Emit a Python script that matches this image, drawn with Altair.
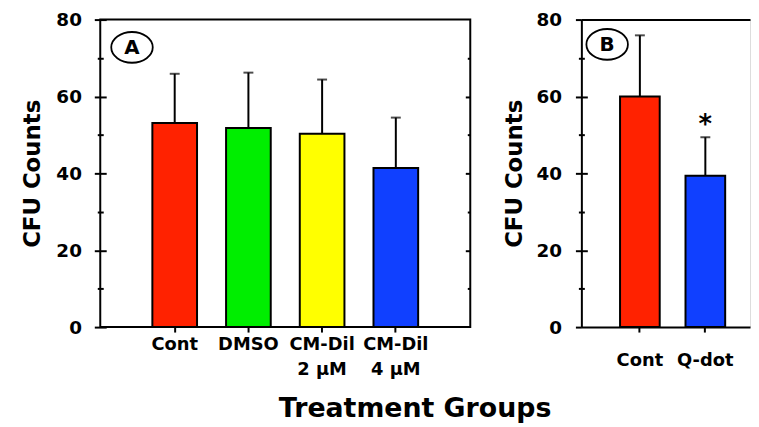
import altair as alt
import pandas as pd

# ---- data ----
groups_a = ["Cont", "DMSO", "CM-Dil 2 μM", "CM-Dil 4 μM"]
means_a = [53.1, 51.8, 50.3, 41.4]
errs_a = [12.8, 14.4, 14.1, 13.1]

groups_b = ["Cont", "Q-dot"]
means_b = [60.0, 39.4]
errs_b = [15.9, 10.0]

colors_a = ["#FF2200", "#00EE00", "#FFFF00", "#1040FF"]
colors_b = ["#FF2200", "#1040FF"]

y_major = [0, 20, 40, 60, 80]
y_inner = [20, 40, 60]
y_minor = [10, 30, 50, 70]

FONT = "DejaVu Sans"
ELLIPSE = "M -1.35 0 A 1.35 1 0 1 0 1.35 0 A 1.35 1 0 1 0 -1.35 0 Z"

df_a = pd.DataFrame({"group": groups_a, "value": means_a,
                     "upper": [m + e for m, e in zip(means_a, errs_a)]})
df_b = pd.DataFrame({"group": groups_b, "value": means_b,
                     "upper": [m + e for m, e in zip(means_b, errs_b)]})

yscale = alt.Scale(domain=[0, 80], nice=False, zero=True)


def y_axis(values, orient="left", offset=0, size=6, labels=False, title=None,
           domain=False, label_pad=13, title_pad=10):
    kw = dict(values=values, orient=orient, offset=offset, tickSize=size,
              labels=labels, domain=domain, grid=False, tickWidth=2,
              tickColor="black", domainWidth=2, domainColor="black",
              labelFont=FONT, labelFontWeight="bold", labelFontSize=18.5,
              labelColor="black", labelPadding=label_pad)
    if title:
        kw.update(title=title, titleFont=FONT, titleFontWeight="bold",
                  titleFontSize=23, titleColor="black", titlePadding=title_pad)
    else:
        kw.update(title=None)
    return alt.Axis(**kw)


label_expr = ("indexof(datum.label, 'CM-Dil ') == 0 ? "
              "['CM-Dil', substring(datum.label, 7)] : datum.label")


def x_axis(domain=False, label_pad=4):
    return alt.Axis(orient="bottom", title=None, domain=domain, domainWidth=2,
                    domainColor="black", tickSize=5, tickWidth=2,
                    tickColor="black", labelAngle=0, labelFont=FONT,
                    labelFontWeight="bold", labelFontSize=18,
                    labelColor="black", labelPadding=label_pad,
                    labelLineHeight=25, labelExpr=label_expr,
                    labelBaseline="top")


# ---------------- Panel A ----------------
xa = dict(field="group", type="nominal", sort=groups_a,
          scale=alt.Scale(paddingInner=0.394, paddingOuter=0.707))
base_a = alt.Chart(df_a)

bars_a = base_a.mark_bar(stroke="black", strokeWidth=2).encode(
    x=alt.X(**xa, axis=x_axis()),
    y=alt.Y("value:Q", scale=yscale,
            axis=y_axis(y_major, offset=-6, size=12, labels=True,
                        title="CFU Counts", label_pad=13, title_pad=12)),
    color=alt.Color("group:N", sort=groups_a,
                    scale=alt.Scale(domain=groups_a, range=colors_a),
                    legend=None),
)
rule_a = base_a.mark_rule(color="black", strokeWidth=2).encode(
    x=alt.X(**xa, axis=None),
    y=alt.Y("value:Q", scale=yscale, axis=y_axis(y_minor, offset=-3, size=6)),
    y2="upper:Q",
)
cap_a = base_a.mark_tick(color="black", size=10, thickness=2).encode(
    x=alt.X(**xa, axis=None),
    y=alt.Y("upper:Q", scale=yscale,
            axis=y_axis(y_inner, orient="right", offset=-5, size=5)),
)
ghost_a = base_a.mark_tick(opacity=0).encode(
    x=alt.X(**xa, axis=None),
    y=alt.Y("value:Q", scale=yscale,
            axis=y_axis(y_minor, orient="right", offset=-3, size=3)),
)
lab_df_a = pd.DataFrame({"t": ["A"]})
circ_a = alt.Chart(lab_df_a).mark_point(
    shape=ELLIPSE, size=961, filled=False, stroke="black", strokeWidth=1.8,
    opacity=1).encode(x=alt.value(32), y=alt.value(28))
text_a = alt.Chart(lab_df_a).mark_text(
    font=FONT, fontWeight="bold", fontSize=20, color="black",
    baseline="middle", align="center").encode(
    text="t:N", x=alt.value(32), y=alt.value(28.5))

panel_a = alt.layer(bars_a, rule_a, cap_a, ghost_a, circ_a, text_a).resolve_axis(
    y="independent", x="independent"
).properties(width=373, height=310,
             view=alt.ViewBackground(stroke="black", strokeWidth=2))

# ---------------- Panel B ----------------
xb = dict(field="group", type="nominal", sort=groups_b,
          scale=alt.Scale(paddingInner=0.394, paddingOuter=0.485, align=0.609))
base_b = alt.Chart(df_b)

bars_b = base_b.mark_bar(stroke="black", strokeWidth=2).encode(
    x=alt.X(**xb, axis=x_axis(domain=True, label_pad=20)),
    y=alt.Y("value:Q", scale=yscale,
            axis=y_axis(y_major, offset=0, size=6, labels=True, domain=True,
                        title="CFU Counts", label_pad=14, title_pad=10)),
    color=alt.Color("group:N", sort=groups_b,
                    scale=alt.Scale(domain=groups_b, range=colors_b),
                    legend=None),
)
rule_b = base_b.mark_rule(color="black", strokeWidth=2).encode(
    x=alt.X(**xb, axis=None),
    y=alt.Y("value:Q", scale=yscale, axis=y_axis(y_inner, offset=-6, size=6)),
    y2="upper:Q",
)
cap_b = base_b.mark_tick(color="black", size=10, thickness=2).encode(
    x=alt.X(**xb, axis=None),
    y=alt.Y("upper:Q", scale=yscale, axis=y_axis(y_minor, offset=-3, size=6)),
)
star_b = base_b.transform_filter(alt.datum.group == "Q-dot").mark_text(
    text="*", font=FONT, fontWeight="bold", fontSize=26, color="black",
    baseline="middle", dy=-12).encode(
    x=alt.X(**xb, axis=alt.Axis(orient="top", title=None, labels=False,
                                ticks=False, domain=True, domainWidth=2,
                                domainColor="black")),
    y=alt.Y("upper:Q", scale=yscale, axis=None),
)
lab_df_b = pd.DataFrame({"t": ["B"]})
circ_b = alt.Chart(lab_df_b).mark_point(
    shape=ELLIPSE, size=961, filled=False, stroke="black", strokeWidth=1.8,
    opacity=1).encode(x=alt.value(26), y=alt.value(25))
text_b = alt.Chart(lab_df_b).mark_text(
    font=FONT, fontWeight="bold", fontSize=20, color="black",
    baseline="middle", align="center").encode(
    text="t:N", x=alt.value(26), y=alt.value(25.5))

panel_b = alt.layer(bars_b, rule_b, cap_b, star_b, circ_b, text_b).resolve_axis(
    y="independent", x="independent"
).properties(width=170, height=310)

chart = alt.hconcat(panel_a, panel_b, spacing=112, bounds="flush").resolve_scale(
    color="independent"
).properties(
    padding={"left": 12, "top": 0, "right": 0, "bottom": 0},
    title=alt.TitleParams("Treatment Groups", orient="bottom", anchor="middle",
                          font=FONT, fontWeight="bold", fontSize=27,
                          color="black", offset=17, dx=30),
).configure_view(stroke="transparent").configure(background="white")

chart.save("out.html", embed_options={"renderer": "svg", "actions": False})
